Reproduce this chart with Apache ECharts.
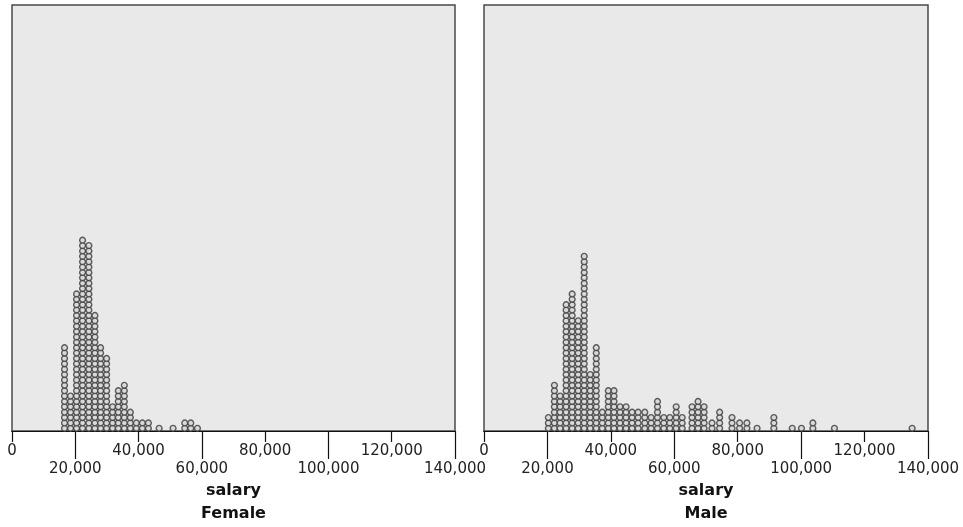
<!DOCTYPE html>
<html>
<head>
<meta charset="utf-8">
<script src="https://cdn.jsdelivr.net/npm/echarts@6/dist/echarts.min.js"></script>
<style>
html,body{margin:0;padding:0;background:#fff;}
#chart{width:963px;height:527px;}
</style>
</head>
<body>
<div id="chart"></div>
<script>
// Bin centres (salary) and number of stacked dots per bin
const femaleSalary = [16600,18500,20400,22300,24300,26200,28000,29900,31800,33600,35500,37400,39300,41200,43100,46500,50900,54600,56500,58600];
const femaleCount  = [16,7,26,36,35,22,16,14,5,8,9,4,2,2,2,1,1,2,2,1];

const maleSalary = [20300,22200,24000,25900,27800,29700,31600,33500,35400,37300,39200,41000,42900,44800,46700,48600,50700,52700,54700,56700,58600,60600,62500,65600,67500,69400,71900,74300,78200,80600,82900,86100,91400,97200,100100,103700,110500,135000];
const maleCount  = [3,9,7,24,26,21,33,11,16,4,8,8,5,5,4,4,4,3,6,3,3,5,3,5,6,5,2,4,3,2,2,1,3,1,1,2,1,1];

const ticksRow1 = [0,40000,80000,120000];
const ticksRow2 = [20000,60000,100000,140000];
const axisTitle = 'salary';
const panelNames = ['Female','Male'];

function stack(xs, counts){
  const out = [];
  xs.forEach((x,i)=>{ for(let k=1;k<=counts[i];k++) out.push([x, k-0.5]); });
  return out;
}
const fmt = v => v.toLocaleString('en-US');
const FONT = 'DejaVu Sans';

function xAxes(gridIndex, panel){
  const base = {
    type:'value', gridIndex, min:0, max:140000, position:'bottom',
    splitLine:{show:false},
    axisLine:{show:true, onZero:false, lineStyle:{color:'#111', width:1.2}},
    nameLocation:'middle',
    nameTextStyle:{fontFamily:FONT, fontWeight:'bold', fontSize:16, color:'#111'}
  };
  return [
    Object.assign({}, base, {
      axisTick:{show:true, customValues:ticksRow1, length:11, lineStyle:{color:'#111', width:1.2}},
      axisLabel:{customValues:ticksRow1, formatter:fmt, margin:13, fontFamily:FONT, fontSize:15, color:'#222'},
      name:axisTitle, nameGap:52
    }),
    Object.assign({}, base, {
      axisTick:{show:true, customValues:ticksRow2, length:28, lineStyle:{color:'#111', width:1.2}},
      axisLabel:{customValues:ticksRow2, formatter:fmt, margin:31, fontFamily:FONT, fontSize:15, color:'#222'},
      name:panelNames[panel], nameGap:75
    })
  ];
}

const yMax = 428/5.4;
const dotStyle = {color:'#d4d4d4', borderColor:'#3a3a3a', borderWidth:1.4};

const option = {
  backgroundColor:'#ffffff',
  animation:false,
  grid:[
    {left:12, top:5, width:443, height:428, show:true, backgroundColor:'#e9e9e9', borderColor:'#4a4a4a', borderWidth:1.5},
    {left:484, top:5, width:444, height:428, show:true, backgroundColor:'#e9e9e9', borderColor:'#4a4a4a', borderWidth:1.5}
  ],
  xAxis:[...xAxes(0,0), ...xAxes(1,1)],
  yAxis:[
    {type:'value', gridIndex:0, min:0, max:yMax, show:false},
    {type:'value', gridIndex:1, min:0, max:yMax, show:false}
  ],
  series:[
    {type:'scatter', xAxisIndex:0, yAxisIndex:0, symbol:'circle', symbolSize:5.8, itemStyle:dotStyle, data:stack(femaleSalary, femaleCount)},
    {type:'scatter', xAxisIndex:2, yAxisIndex:1, symbol:'circle', symbolSize:5.8, itemStyle:dotStyle, data:stack(maleSalary, maleCount)}
  ]
};
const chart = echarts.init(document.getElementById('chart'), null, {renderer:'canvas'});
chart.setOption(option);
</script>
</body>
</html>
